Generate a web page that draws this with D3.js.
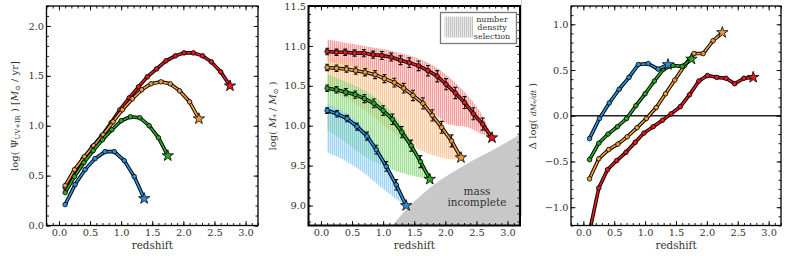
<!DOCTYPE html>
<html>
<head>
<meta charset="utf-8">
<script src="https://cdn.jsdelivr.net/npm/d3@7"></script>
<style>
  body { margin: 0; background: #fff; }
  svg { display: block; }
  text { font-family: "DejaVu Serif", serif; fill: #333; }
</style>
</head>
<body>
<svg id="chart" width="789" height="256"></svg>
<script>
// ── data
// redshift sampling of each progenitor track (last entry = star marker)
const zBlue   = [0.10, 0.26, 0.42, 0.58, 0.74, 0.89, 1.05, 1.21, 1.37];
const zGreen  = [0.10, 0.25, 0.40, 0.55, 0.70, 0.85, 1.00, 1.15, 1.30, 1.45, 1.60, 1.75];
const zOrange = [0.10, 0.25, 0.41, 0.56, 0.71, 0.87, 1.02, 1.18, 1.33, 1.48, 1.64, 1.79, 1.94, 2.10, 2.25];
const zRed    = [0.10, 0.25, 0.39, 0.54, 0.69, 0.84, 0.98, 1.13, 1.28, 1.42, 1.57, 1.72, 1.87, 2.01, 2.16, 2.31, 2.45, 2.60, 2.75];

// left panel: log SFR
const sfrBlue   = [0.21, 0.41, 0.56, 0.67, 0.74, 0.74, 0.65, 0.49, 0.27];
const sfrGreen  = [0.33, 0.49, 0.63, 0.75, 0.86, 0.96, 1.05, 1.09, 1.08, 1.00, 0.88, 0.70];
const sfrOrange = [0.40, 0.56, 0.69, 0.80, 0.91, 1.04, 1.16, 1.27, 1.36, 1.42, 1.44, 1.42, 1.35, 1.24, 1.07];
const sfrRed    = [0.38, 0.54, 0.67, 0.79, 0.90, 1.03, 1.16, 1.28, 1.39, 1.49, 1.57, 1.65, 1.70, 1.73, 1.73, 1.70, 1.64, 1.54, 1.40];

// middle panel: log stellar mass + errors (errors for circles only)
const massBlue   = [10.19, 10.15, 10.09, 9.99, 9.87, 9.70, 9.49, 9.26, 9.00];
const massGreen  = [10.47, 10.45, 10.42, 10.39, 10.34, 10.28, 10.19, 10.08, 9.92, 9.75, 9.55, 9.33];
const massOrange = [10.73, 10.72, 10.71, 10.69, 10.67, 10.64, 10.59, 10.54, 10.47, 10.38, 10.28, 10.13, 9.98, 9.81, 9.60];
const massRed    = [10.93, 10.92, 10.92, 10.91, 10.91, 10.89, 10.88, 10.86, 10.82, 10.79, 10.75, 10.69, 10.62, 10.52, 10.41, 10.29, 10.15, 10.02, 9.85];
const errBlue   = [0.035, 0.04, 0.04, 0.045, 0.05, 0.055, 0.06, 0.065];
const errGreen  = [0.04, 0.04, 0.045, 0.045, 0.05, 0.055, 0.06, 0.065, 0.07, 0.07, 0.075];
const errOrange = [0.04, 0.04, 0.04, 0.045, 0.045, 0.05, 0.05, 0.055, 0.06, 0.065, 0.07, 0.07, 0.075, 0.075];
const errRed    = [0.04, 0.04, 0.04, 0.04, 0.045, 0.045, 0.05, 0.05, 0.055, 0.06, 0.06, 0.065, 0.07, 0.07, 0.07, 0.075, 0.075, 0.075];

// number density selection bands (upper / lower edge at each track redshift)
const bandBlueHi   = [10.28, 10.22, 10.15, 10.05, 9.92, 9.75, 9.53, 9.28, 9.00];
const bandBlueLo   = [9.67, 9.61, 9.55, 9.47, 9.38, 9.28, 9.18, 9.08, 9.00];
const bandGreenHi  = [10.65, 10.60, 10.55, 10.50, 10.44, 10.37, 10.28, 10.16, 10.00, 9.80, 9.58, 9.33];
const bandGreenLo  = [9.95, 9.87, 9.79, 9.70, 9.62, 9.55, 9.50, 9.45, 9.41, 9.38, 9.35, 9.33];
const bandOrangeHi = [10.88, 10.84, 10.81, 10.78, 10.75, 10.71, 10.67, 10.61, 10.54, 10.45, 10.34, 10.20, 10.03, 9.84, 9.62];
const bandOrangeLo = [10.45, 10.40, 10.34, 10.27, 10.19, 10.10, 10.00, 9.91, 9.82, 9.74, 9.68, 9.63, 9.60, 9.58, 9.59];
const bandRedHi    = [11.08, 11.06, 11.04, 11.02, 11.00, 10.98, 10.96, 10.94, 10.91, 10.88, 10.84, 10.79, 10.72, 10.64, 10.54, 10.42, 10.29, 10.12, 9.87];
const bandRedLo    = [10.80, 10.78, 10.76, 10.74, 10.71, 10.68, 10.64, 10.58, 10.52, 10.45, 10.36, 10.25, 10.12, 10.03, 10.00, 9.99, 9.95, 9.89, 9.85];

// mass incompleteness boundary
const incZ    = [1.15, 1.30, 1.50, 1.75, 2.00, 2.25, 2.50, 2.75, 3.00, 3.20];
const incMass = [8.75, 8.89, 9.05, 9.22, 9.36, 9.48, 9.59, 9.69, 9.80, 9.89];

// right panel: Δ log(dM/dt)
const dBlue   = [-0.25, -0.03, 0.14, 0.29, 0.42, 0.56, 0.57, 0.51, 0.56];
const dGreen  = [-0.48, -0.30, -0.20, -0.12, -0.03, 0.11, 0.24, 0.38, 0.51, 0.55, 0.54, 0.62];
const dOrange = [-0.69, -0.47, -0.37, -0.31, -0.23, -0.13, -0.03, 0.09, 0.24, 0.39, 0.55, 0.68, 0.68, 0.82, 0.91];
const dRed    = [-1.27, -0.79, -0.59, -0.49, -0.40, -0.29, -0.19, -0.12, -0.05, 0.02, 0.10, 0.23, 0.38, 0.44, 0.42, 0.41, 0.35, 0.41, 0.42];

// axes
const xDomain = [-0.2, 3.2];
const xTicks  = [0.0, 0.5, 1.0, 1.5, 2.0, 2.5, 3.0];
const yTicks1 = [0.0, 0.5, 1.0, 1.5, 2.0];
const yTicks2 = [9.0, 9.5, 10.0, 10.5, 11.0, 11.5];
const yTicks3 = [-1.0, -0.5, 0.0, 0.5, 1.0];
const legendLines = ['number', 'density', 'selection'];

const colors = { red: '#e41a1c', orange: '#ef9a3a', green: '#27a827', blue: '#2b90d9' };
const bandColors = { red: '#f27a7a', orange: '#f9b77a', green: '#78d46a', blue: '#78c4f2' };

const svg = d3.select('#chart');
const defs = svg.append('defs');
const fmt = d3.format('.1f');

// hatch patterns (vertical lines)
Object.entries({ ...bandColors, gray: '#aaaaaa' }).forEach(([k, c]) => {
  const p = defs.append('pattern')
    .attr('id', 'hatch-' + k)
    .attr('patternUnits', 'userSpaceOnUse')
    .attr('width', 2).attr('height', 4);
  p.append('rect').attr('width', 2).attr('height', 4)
    .attr('fill', c).attr('opacity', k === 'gray' ? 0.25 : 0.3);
  p.append('line').attr('x1', 0.5).attr('x2', 0.5).attr('y1', 0).attr('y2', 4)
    .attr('stroke', c).attr('stroke-width', 1).attr('opacity', 0.6);
});

let clipN = 0;
function makePanel(box, yDomain) {
  const x = d3.scaleLinear().domain(xDomain).range([box.left, box.right]);
  const y = d3.scaleLinear().domain(yDomain).range([box.bottom, box.top]);
  const id = 'clip' + (clipN++);
  defs.append('clipPath').attr('id', id).append('rect')
    .attr('x', box.left).attr('y', box.top)
    .attr('width', box.right - box.left).attr('height', box.bottom - box.top);
  const data = svg.append('g').attr('clip-path', `url(#${id})`);
  return { box, x, y, data };
}

function drawAxes(p, yTicks, nMinorY, frameW) {
  const { box, x, y } = p;
  const clean = g => {
    g.select('.domain').remove();
    g.selectAll('.tick line').attr('stroke', '#000').attr('stroke-width', 0.9);
    g.selectAll('text').attr('font-size', 9.8).attr('fill', '#333').attr('font-family', '"DejaVu Serif", serif');
  };
  // minor ticks
  svg.append('g').attr('transform', `translate(0,${box.bottom})`)
    .call(d3.axisBottom(x).ticks(34).tickSize(-2.5).tickFormat('')).call(clean);
  svg.append('g').attr('transform', `translate(0,${box.top})`)
    .call(d3.axisTop(x).ticks(34).tickSize(-2.5).tickFormat('')).call(clean);
  svg.append('g').attr('transform', `translate(${box.left},0)`)
    .call(d3.axisLeft(y).ticks(nMinorY).tickSize(-2.5).tickFormat('')).call(clean);
  svg.append('g').attr('transform', `translate(${box.right},0)`)
    .call(d3.axisRight(y).ticks(nMinorY).tickSize(-2.5).tickFormat('')).call(clean);
  // major ticks + labels
  svg.append('g').attr('transform', `translate(0,${box.bottom})`)
    .call(d3.axisBottom(x).tickValues(xTicks).tickSize(-4.5).tickPadding(3.5).tickFormat(fmt)).call(clean);
  svg.append('g').attr('transform', `translate(0,${box.top})`)
    .call(d3.axisTop(x).tickValues(xTicks).tickSize(-4.5).tickFormat('')).call(clean);
  svg.append('g').attr('transform', `translate(${box.left},0)`)
    .call(d3.axisLeft(y).tickValues(yTicks).tickSize(-4.5).tickPadding(2.5).tickFormat(fmt)).call(clean);
  svg.append('g').attr('transform', `translate(${box.right},0)`)
    .call(d3.axisRight(y).tickValues(yTicks).tickSize(-4.5).tickFormat('')).call(clean);
  // frame
  svg.append('rect')
    .attr('x', box.left).attr('y', box.top)
    .attr('width', box.right - box.left).attr('height', box.bottom - box.top)
    .attr('fill', 'none').attr('stroke', '#000').attr('stroke-width', frameW);
  // x label
  svg.append('text')
    .attr('x', (box.left + box.right) / 2).attr('y', 248.5)
    .attr('text-anchor', 'middle').attr('font-size', 10.4)
    .text('redshift');
}

// rotated y label built from parts {t, sub, it, size}
function yLabel(cx, cy, parts) {
  const t = svg.append('text')
    .attr('transform', `translate(${cx},${cy}) rotate(-90)`)
    .attr('text-anchor', 'middle').attr('font-size', 10);
  let shift = 0;
  parts.forEach(part => {
    const s = t.append('tspan').text(part.t);
    const want = part.sub ? 2.2 : 0;
    if (want !== shift) { s.attr('dy', want - shift); shift = want; }
    if (part.sub) s.attr('font-size', 6.8);
    if (part.size) s.attr('font-size', part.size);
    if (part.it) s.attr('font-style', 'italic');
  });
}

function drawTrack(p, zs, vs, color, errs) {
  const pts = zs.map((z, i) => [p.x(z), p.y(vs[i])]);
  const line = d3.line();
  p.data.append('path').attr('d', line(pts))
    .attr('fill', 'none').attr('stroke', '#000').attr('stroke-width', 3.6).attr('stroke-linejoin', 'round');
  p.data.append('path').attr('d', line(pts))
    .attr('fill', 'none').attr('stroke', color).attr('stroke-width', 1.7).attr('stroke-linejoin', 'round');
  const circ = pts.slice(0, -1);
  if (errs) {
    const eb = p.data.append('g').attr('stroke', '#111').attr('stroke-width', 1.1);
    circ.forEach(([px], i) => {
      const lo = p.y(vs[i] - errs[i]), hi = p.y(vs[i] + errs[i]);
      eb.append('line').attr('x1', px).attr('x2', px).attr('y1', lo).attr('y2', hi);
      eb.append('line').attr('x1', px - 2).attr('x2', px + 2).attr('y1', lo).attr('y2', lo);
      eb.append('line').attr('x1', px - 2).attr('x2', px + 2).attr('y1', hi).attr('y2', hi);
    });
  }
  p.data.append('g').selectAll('circle').data(circ).enter().append('circle')
    .attr('cx', d => d[0]).attr('cy', d => d[1]).attr('r', 2.3)
    .attr('fill', color).attr('stroke', '#000').attr('stroke-width', 0.8);
  const last = pts[pts.length - 1];
  p.data.append('path')
    .attr('d', d3.symbol().type(d3.symbolStar).size(40)())
    .attr('transform', `translate(${last[0]},${last[1]})`)
    .attr('fill', color).attr('stroke', '#000').attr('stroke-width', 0.8);
}

const tracks = [
  { c: 'red',    z: zRed,    sfr: sfrRed,    m: massRed,    e: errRed,    d: dRed,    hi: bandRedHi,    lo: bandRedLo },
  { c: 'orange', z: zOrange, sfr: sfrOrange, m: massOrange, e: errOrange, d: dOrange, hi: bandOrangeHi, lo: bandOrangeLo },
  { c: 'green',  z: zGreen,  sfr: sfrGreen,  m: massGreen,  e: errGreen,  d: dGreen,  hi: bandGreenHi,  lo: bandGreenLo },
  { c: 'blue',   z: zBlue,   sfr: sfrBlue,   m: massBlue,   e: errBlue,   d: dBlue,   hi: bandBlueHi,   lo: bandBlueLo }
];

// ── panel 1: SFR
const p1 = makePanel({ left: 46.5, right: 258, top: 6, bottom: 225.5 }, [0, 2.2]);
tracks.forEach(t => drawTrack(p1, t.z, t.sfr, colors[t.c]));
drawAxes(p1, yTicks1, 22, 1.3);
yLabel(18, 116, [
  { t: 'log( Ψ' }, { t: 'UV+IR', sub: true }, { t: ' ) [' }, { t: 'M', it: true },
  { t: '⊙', sub: true }, { t: ' / yr]' }
]);

// ── panel 2: stellar mass
const p2 = makePanel({ left: 308.5, right: 520, top: 6, bottom: 225.5 }, [8.75, 11.5]);
tracks.forEach(t => {
  const area = d3.area()
    .x((z, i) => p2.x(z)).y0((z, i) => p2.y(t.lo[i])).y1((z, i) => p2.y(t.hi[i]))
    .curve(d3.curveMonotoneX);
  p2.data.append('path').attr('d', area(t.z)).attr('fill', `url(#hatch-${t.c})`);
});
const incArea = d3.area()
  .x(z => p2.x(z)).y0(p2.y(8.75)).y1((z, i) => p2.y(incMass[i]))
  .curve(d3.curveMonotoneX);
p2.data.append('path').attr('d', incArea(incZ)).attr('fill', '#c8c8c8');
p2.data.append('text').attr('x', 477).attr('y', 195).attr('text-anchor', 'middle')
  .attr('font-size', 10.5).attr('fill', '#333').text('mass');
p2.data.append('text').attr('x', 477).attr('y', 206).attr('text-anchor', 'middle')
  .attr('font-size', 10.5).attr('fill', '#333').text('incomplete');
tracks.forEach(t => drawTrack(p2, t.z, t.m, colors[t.c], t.e));

// legend
const lg = svg.append('g');
lg.append('rect').attr('x', 440.5).attr('y', 12.5).attr('width', 76).attr('height', 31)
  .attr('fill', '#fff').attr('stroke', '#777').attr('stroke-width', 1.3);
lg.append('rect').attr('x', 444.5).attr('y', 16.5).attr('width', 28.5).attr('height', 21)
  .attr('fill', 'url(#hatch-gray)');
legendLines.forEach((s, i) => {
  lg.append('text').attr('x', 492).attr('y', 22 + i * 8.3)
    .attr('text-anchor', 'middle').attr('font-size', 8).attr('fill', '#333').text(s);
});
drawAxes(p2, yTicks2, 27, 2);
yLabel(276, 116, [
  { t: 'log( ' }, { t: 'M', it: true }, { t: '*', sub: true }, { t: ' / ' },
  { t: 'M', it: true }, { t: '⊙', sub: true }, { t: ' )' }
]);

// ── panel 3: Δ log dM/dt
const p3 = makePanel({ left: 571, right: 781, top: 6, bottom: 225.5 }, [-1.2, 1.2]);
p3.data.append('line')
  .attr('x1', p3.x(xDomain[0])).attr('x2', p3.x(xDomain[1]))
  .attr('y1', p3.y(0)).attr('y2', p3.y(0))
  .attr('stroke', '#222').attr('stroke-width', 1.6);
tracks.forEach(t => drawTrack(p3, t.z, t.d, colors[t.c]));
drawAxes(p3, yTicks3, 24, 1.3);
yLabel(536, 116, [
  { t: 'Δ log( ' }, { t: 'dM', it: true, size: 7.5 }, { t: '*', sub: true }, { t: '/dt', it: true, size: 7.5 }, { t: ' )' }
]);

// thin separator left by the original image tiling
svg.append('line').attr('x1', 521.5).attr('x2', 521.5).attr('y1', 0).attr('y2', 216)
  .attr('stroke', '#d0d0d0').attr('stroke-width', 1);
</script>
</body>
</html>
